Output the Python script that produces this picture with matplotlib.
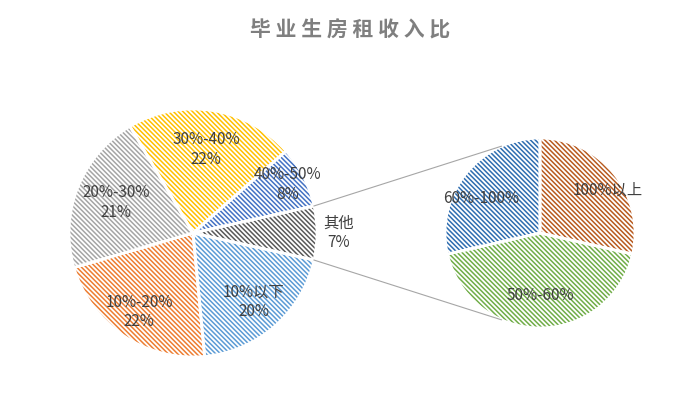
import numpy as np
import matplotlib
matplotlib.use('Agg')
import matplotlib.pyplot as plt

plt.rcParams['font.family'] = ['Noto Sans CJK SC', 'DejaVu Sans']
plt.rcParams['hatch.linewidth'] = 1.1

# 数据
main_labels = ['10%以下', '10%-20%', '20%-30%', '30%-40%', '40%-50%', '其他']
main_values = [20, 22, 21, 22, 8, 7]
main_colors = ['#5B9BD5', '#ED7D31', '#A5A5A5', '#FFC000', '#4472C4', '#595959']

sub_labels = ['100%以上', '50%-60%', '60%-100%']
sub_values = [2, 3, 2]
sub_colors = ['#B85A1E', '#70AD47', '#2E6DB0']

W, H = 700, 419
fig = plt.figure(figsize=(W / 100, H / 100), dpi=100)
ax = fig.add_axes([0, 0, 1, 1])

main_c = (193, H - 233)
main_r = 124
sub_c = (540, H - 233)
sub_r = 95

total = sum(main_values)
start = -main_values[-1] / total * 180


def hatched_pie(values, colors, center, radius, startangle):
    # 先画条纹, 再盖一层白色分隔线
    wedges, _ = ax.pie(values, colors=['white'] * len(values), center=center, radius=radius,
                       startangle=startangle, counterclock=False,
                       wedgeprops=dict(linewidth=0))
    for w, c in zip(wedges, colors):
        w.set_edgecolor(c)
        w.set_hatch('\\' * 7)
        w.set_linewidth(0)
    ax.pie(values, colors=['none'] * len(values), center=center, radius=radius,
           startangle=startangle, counterclock=False,
           wedgeprops=dict(linewidth=2, edgecolor='white', fill=False))
    return wedges


mw = hatched_pie(main_values, main_colors, main_c, main_r, start)
sw = hatched_pie(sub_values, sub_colors, sub_c, sub_r, 90)

ax.set_xlim(0, W)
ax.set_ylim(0, H)
ax.set_aspect('equal')
ax.axis('off')

# 标签
main_dist = [0.74, 0.77, 0.67, 0.68, 0.86, 1.17]
for w, lab, v, d in zip(mw, main_labels, main_values, main_dist):
    ang = np.deg2rad((w.theta1 + w.theta2) / 2)
    x = main_c[0] + d * main_r * np.cos(ang)
    y = main_c[1] + d * main_r * np.sin(ang)
    ax.text(x, y, f'{lab}\n{v}%', ha='center', va='center', fontsize=11,
            color='#404040', linespacing=1.2)

sub_dist = [0.85, 0.66, 0.72]
sub_shift = [-6, 0, 8]
for w, lab, d, s in zip(sw, sub_labels, sub_dist, sub_shift):
    ang = np.deg2rad((w.theta1 + w.theta2) / 2 + s)
    x = sub_c[0] + d * sub_r * np.cos(ang)
    y = sub_c[1] + d * sub_r * np.sin(ang)
    ax.text(x, y, lab, ha='center', va='center', fontsize=11, color='#404040')

# 连接线
a = np.deg2rad(main_values[-1] / total * 180)
for sign, sub_ang in [(1, 114), (-1, 246)]:
    p0 = (main_c[0] + main_r * np.cos(a), main_c[1] + sign * main_r * np.sin(a))
    b = np.deg2rad(sub_ang)
    p1 = (sub_c[0] + sub_r * np.cos(b), sub_c[1] + sub_r * np.sin(b))
    ax.plot([p0[0], p1[0]], [p0[1], p1[1]], color='#A6A6A6', linewidth=0.8)

ax.text(W / 2, H - 30, ' '.join('毕业生房租收入比'), ha='center', va='center',
        fontsize=15, fontweight='bold', color='#7F7F7F')

fig.savefig('out.png', dpi=100)
